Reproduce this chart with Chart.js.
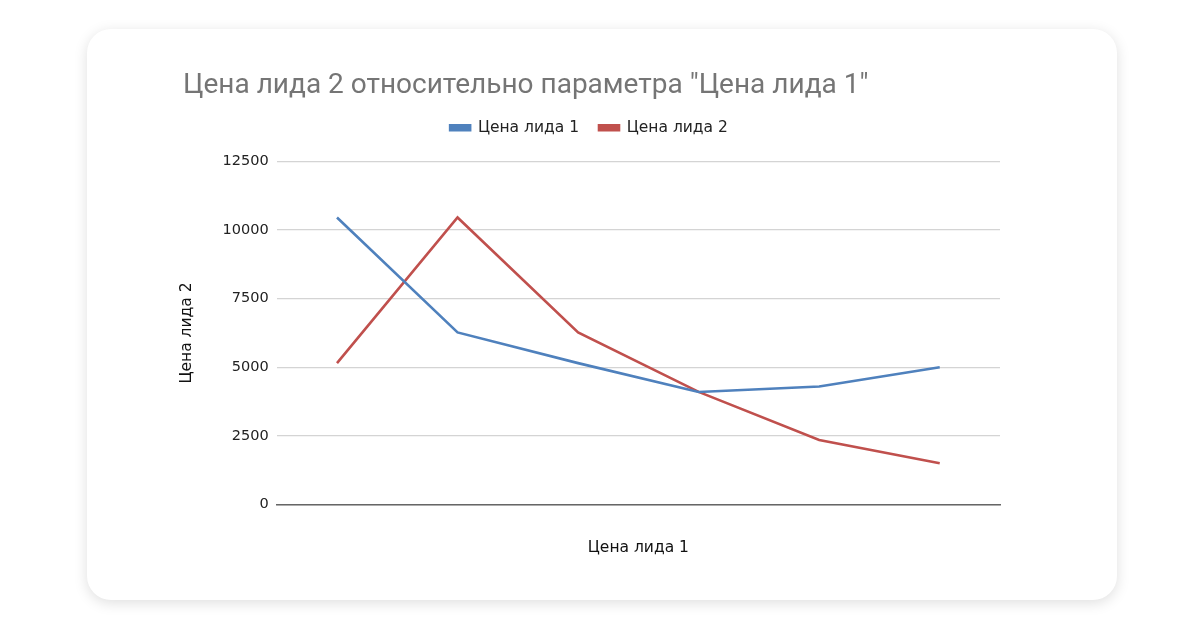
<!DOCTYPE html>
<html lang="ru">
<head>
<meta charset="utf-8">
<title>Цена лида 2 относительно параметра "Цена лида 1"</title>
<script src="https://cdn.jsdelivr.net/npm/chart.js@4"></script>
<style>
  html, body { margin: 0; padding: 0; background: #ffffff; }
  body { width: 1200px; height: 630px; position: relative; overflow: hidden; }
  .card {
    position: absolute; left: 87px; top: 29px; width: 1030px; height: 571px;
    background: #fff; border-radius: 24px;
    box-shadow: 0 3px 14px rgba(0, 0, 0, 0.13);
  }
  .wrap { position: absolute; left: 172px; top: 52px; width: 840px; height: 525px; }
</style>
</head>
<body>
<div class="card"></div>
<div class="wrap"><canvas id="leadChart"></canvas></div>
<script>
const categories = ['1', '2', '3', '4', '5', '6'];
const lead1 = [10460, 6270, 5150, 4100, 4300, 5000];
const lead2 = [5150, 10460, 6270, 4100, 2350, 1500];
const yTicks = [0, 2500, 5000, 7500, 10000, 12500];

const ctx = document.getElementById('leadChart').getContext('2d');

// small layout tweaks: extra gap under the legend, title nudged right
const layoutTweaks = {
    id: 'layoutTweaks',
    beforeLayout(chart) {
        const legend = chart.legend;
        if (legend && !legend._patched) {
            const fit = legend.fit;
            legend.fit = function () {
                fit.call(this);
                this.height += 16;
            };
            legend._patched = true;
        }
    },
    afterLayout(chart) {
        const t = chart.titleBlock;
        if (t) {
            t.left += 5;
            t.right += 5;
        }
    }
};

const leadChart = new Chart(ctx, {
    type: 'line',
    data: {
        labels: categories,
        datasets: [
            { label: 'Цена лида 1', data: lead1, borderColor: '#4f81bd', backgroundColor: '#4f81bd' },
            { label: 'Цена лида 2', data: lead2, borderColor: '#c0504d', backgroundColor: '#c0504d' }
        ]
    },
    options: {
        responsive: true,
        maintainAspectRatio: false,
        animation: false,
        layout: { padding: { left: 6, right: 12, top: 8, bottom: 20 } },
        elements: {
            line: { borderWidth: 2.6, tension: 0 },
            point: { radius: 0, hoverRadius: 0 }
        },
        plugins: {
            title: {
                display: true,
                text: 'Цена лида 2 относительно параметра "Цена лида 1"',
                align: 'start',
                color: '#757575',
                font: { family: 'Roboto', size: 28, weight: 'normal', lineHeight: 1 },
                padding: { top: 12, bottom: 0 }
            },
            legend: {
                display: true,
                labels: {
                    boxWidth: 20,
                    boxHeight: 5,
                    padding: 20,
                    color: '#222',
                    font: { family: 'DejaVu Sans', size: 15.5 }
                }
            },
            tooltip: { enabled: false }
        },
        scales: {
            x: {
                offset: true,
                grid: { display: false },
                border: { display: true, color: '#666', width: 1.5 },
                ticks: { display: false },
                title: {
                    display: true,
                    text: 'Цена лида 1',
                    color: '#111',
                    font: { family: 'DejaVu Sans', size: 15.5 },
                    padding: { top: 26, bottom: 0 }
                }
            },
            y: {
                min: yTicks[0],
                max: yTicks[yTicks.length - 1],
                afterBuildTicks: (axis) => { axis.ticks = yTicks.map(v => ({ value: v })); },
                grid: { color: '#d4d4d4', lineWidth: 1.2, drawTicks: false },
                border: { display: false },
                ticks: {
                    padding: 8,
                    color: '#222',
                    font: { family: 'DejaVu Sans', size: 14.5 },
                    callback: (v) => String(v)
                },
                title: {
                    display: true,
                    text: 'Цена лида 2',
                    color: '#111',
                    font: { family: 'DejaVu Sans', size: 15.5 },
                    padding: { top: 0, bottom: 18 }
                }
            }
        }
    },
    plugins: [layoutTweaks]
});
</script>
</body>
</html>
